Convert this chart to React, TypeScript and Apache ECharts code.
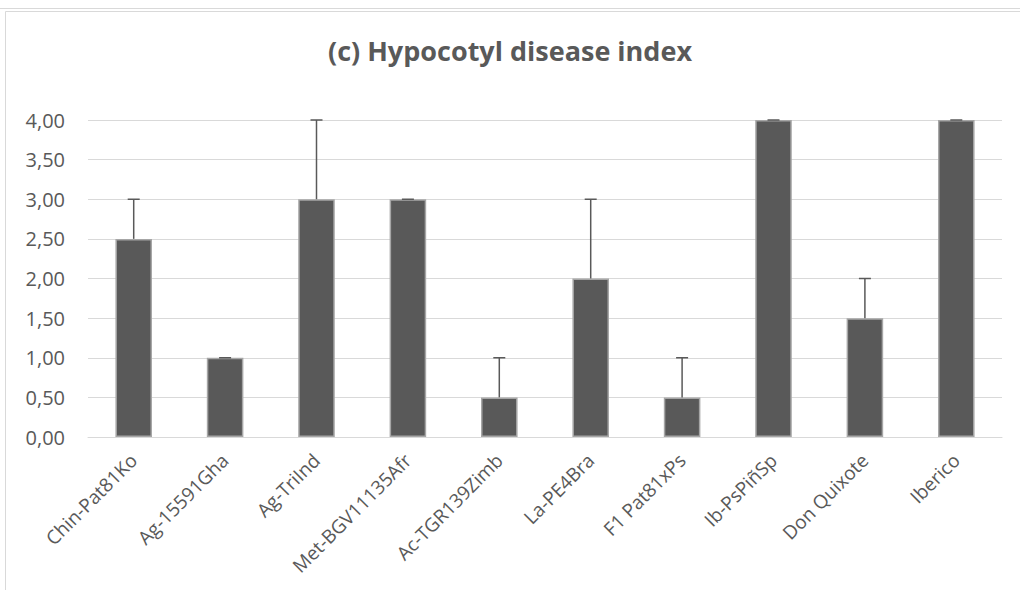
import React, { useEffect, useRef } from "react";
import * as echarts from "echarts";

const categories = [
  "Chin-Pat81Ko",
  "Ag-15591Gha",
  "Ag-TriInd",
  "Met-BGV11135Afr",
  "Ac-TGR139Zimb",
  "La-PE4Bra",
  "F1 Pat81xPs",
  "Ib-PsPiñSp",
  "Don Quixote",
  "Iberico",
];
const values = [2.5, 1.0, 3.0, 3.0, 0.5, 2.0, 0.5, 4.0, 1.5, 4.0];
const errorUpper = [0.5, 0.0, 1.0, 0.0, 0.5, 1.0, 0.5, 0.0, 0.5, 0.0];
const yTicks = [0, 0.5, 1, 1.5, 2, 2.5, 3, 3.5, 4];
const title = "(c) Hypocotyl disease index";

const FONT = "'Open Sans', sans-serif";
const GRAY = "#595959";

export default function App() {
  const ref = useRef<HTMLDivElement>(null);
  useEffect(() => {
    document.body.style.margin = "0";
    const chart = echarts.init(ref.current!, null, { renderer: "svg" });
    const errData = values.map((v, i) => [i, v, v + errorUpper[i]]);
    chart.setOption({
      animation: false,
      backgroundColor: "#ffffff",
      textStyle: { fontFamily: FONT },
      title: {
        text: title,
        left: "center",
        top: 32,
        textStyle: { fontFamily: FONT, fontSize: 27, fontWeight: "bold", color: GRAY },
      },
      graphic: [
        { type: "line", shape: { x1: 0, y1: 8.5, x2: 1020, y2: 8.5 }, style: { stroke: "#d9d9d9", lineWidth: 1 } },
        { type: "line", shape: { x1: 5.5, y1: 11.5, x2: 1020, y2: 11.5 }, style: { stroke: "#d9d9d9", lineWidth: 1 } },
        { type: "line", shape: { x1: 5.5, y1: 11.5, x2: 5.5, y2: 590 }, style: { stroke: "#d9d9d9", lineWidth: 1 } },
      ],
      grid: { left: 88, right: 18, top: 120, bottom: 153, containLabel: false },
      xAxis: {
        type: "category",
        data: categories,
        axisTick: { show: false },
        axisLine: { lineStyle: { color: "#d9d9d9", width: 1 } },
        axisLabel: {
          rotate: 45,
          interval: 0,
          color: GRAY,
          fontSize: 19,
          fontFamily: FONT,
          margin: 20,
        },
      },
      yAxis: {
        type: "value",
        min: yTicks[0],
        max: yTicks[yTicks.length - 1],
        interval: 0.5,
        axisLine: { show: false },
        axisTick: { show: false },
        splitLine: { lineStyle: { color: "#d9d9d9", width: 1 } },
        axisLabel: {
          color: GRAY,
          fontSize: 20,
          fontFamily: FONT,
          margin: 23,
          formatter: (v: number) => v.toFixed(2).replace(".", ","),
        },
      },
      series: [
        {
          type: "bar",
          data: values,
          barWidth: "40%",
          itemStyle: { color: GRAY, borderColor: "#a6a6a6", borderWidth: 1.5 },
        },
        {
          type: "custom",
          data: errData,
          z: 10,
          renderItem: (params: any, api: any) => {
            const x = api.value(0);
            const lo = api.coord([x, api.value(1)]);
            const hi = api.coord([x, api.value(2)]);
            const half = 6;
            const style = { stroke: GRAY, lineWidth: 1.5 };
            return {
              type: "group",
              children: [
                { type: "line", shape: { x1: lo[0], y1: lo[1], x2: hi[0], y2: hi[1] }, style },
                { type: "line", shape: { x1: hi[0] - half, y1: hi[1], x2: hi[0] + half, y2: hi[1] }, style },
              ],
            };
          },
        },
      ],
    });
    return () => chart.dispose();
  }, []);
  return <div ref={ref} style={{ width: 1020, height: 590, position: "absolute", left: 0, top: 0 }} />;
}
